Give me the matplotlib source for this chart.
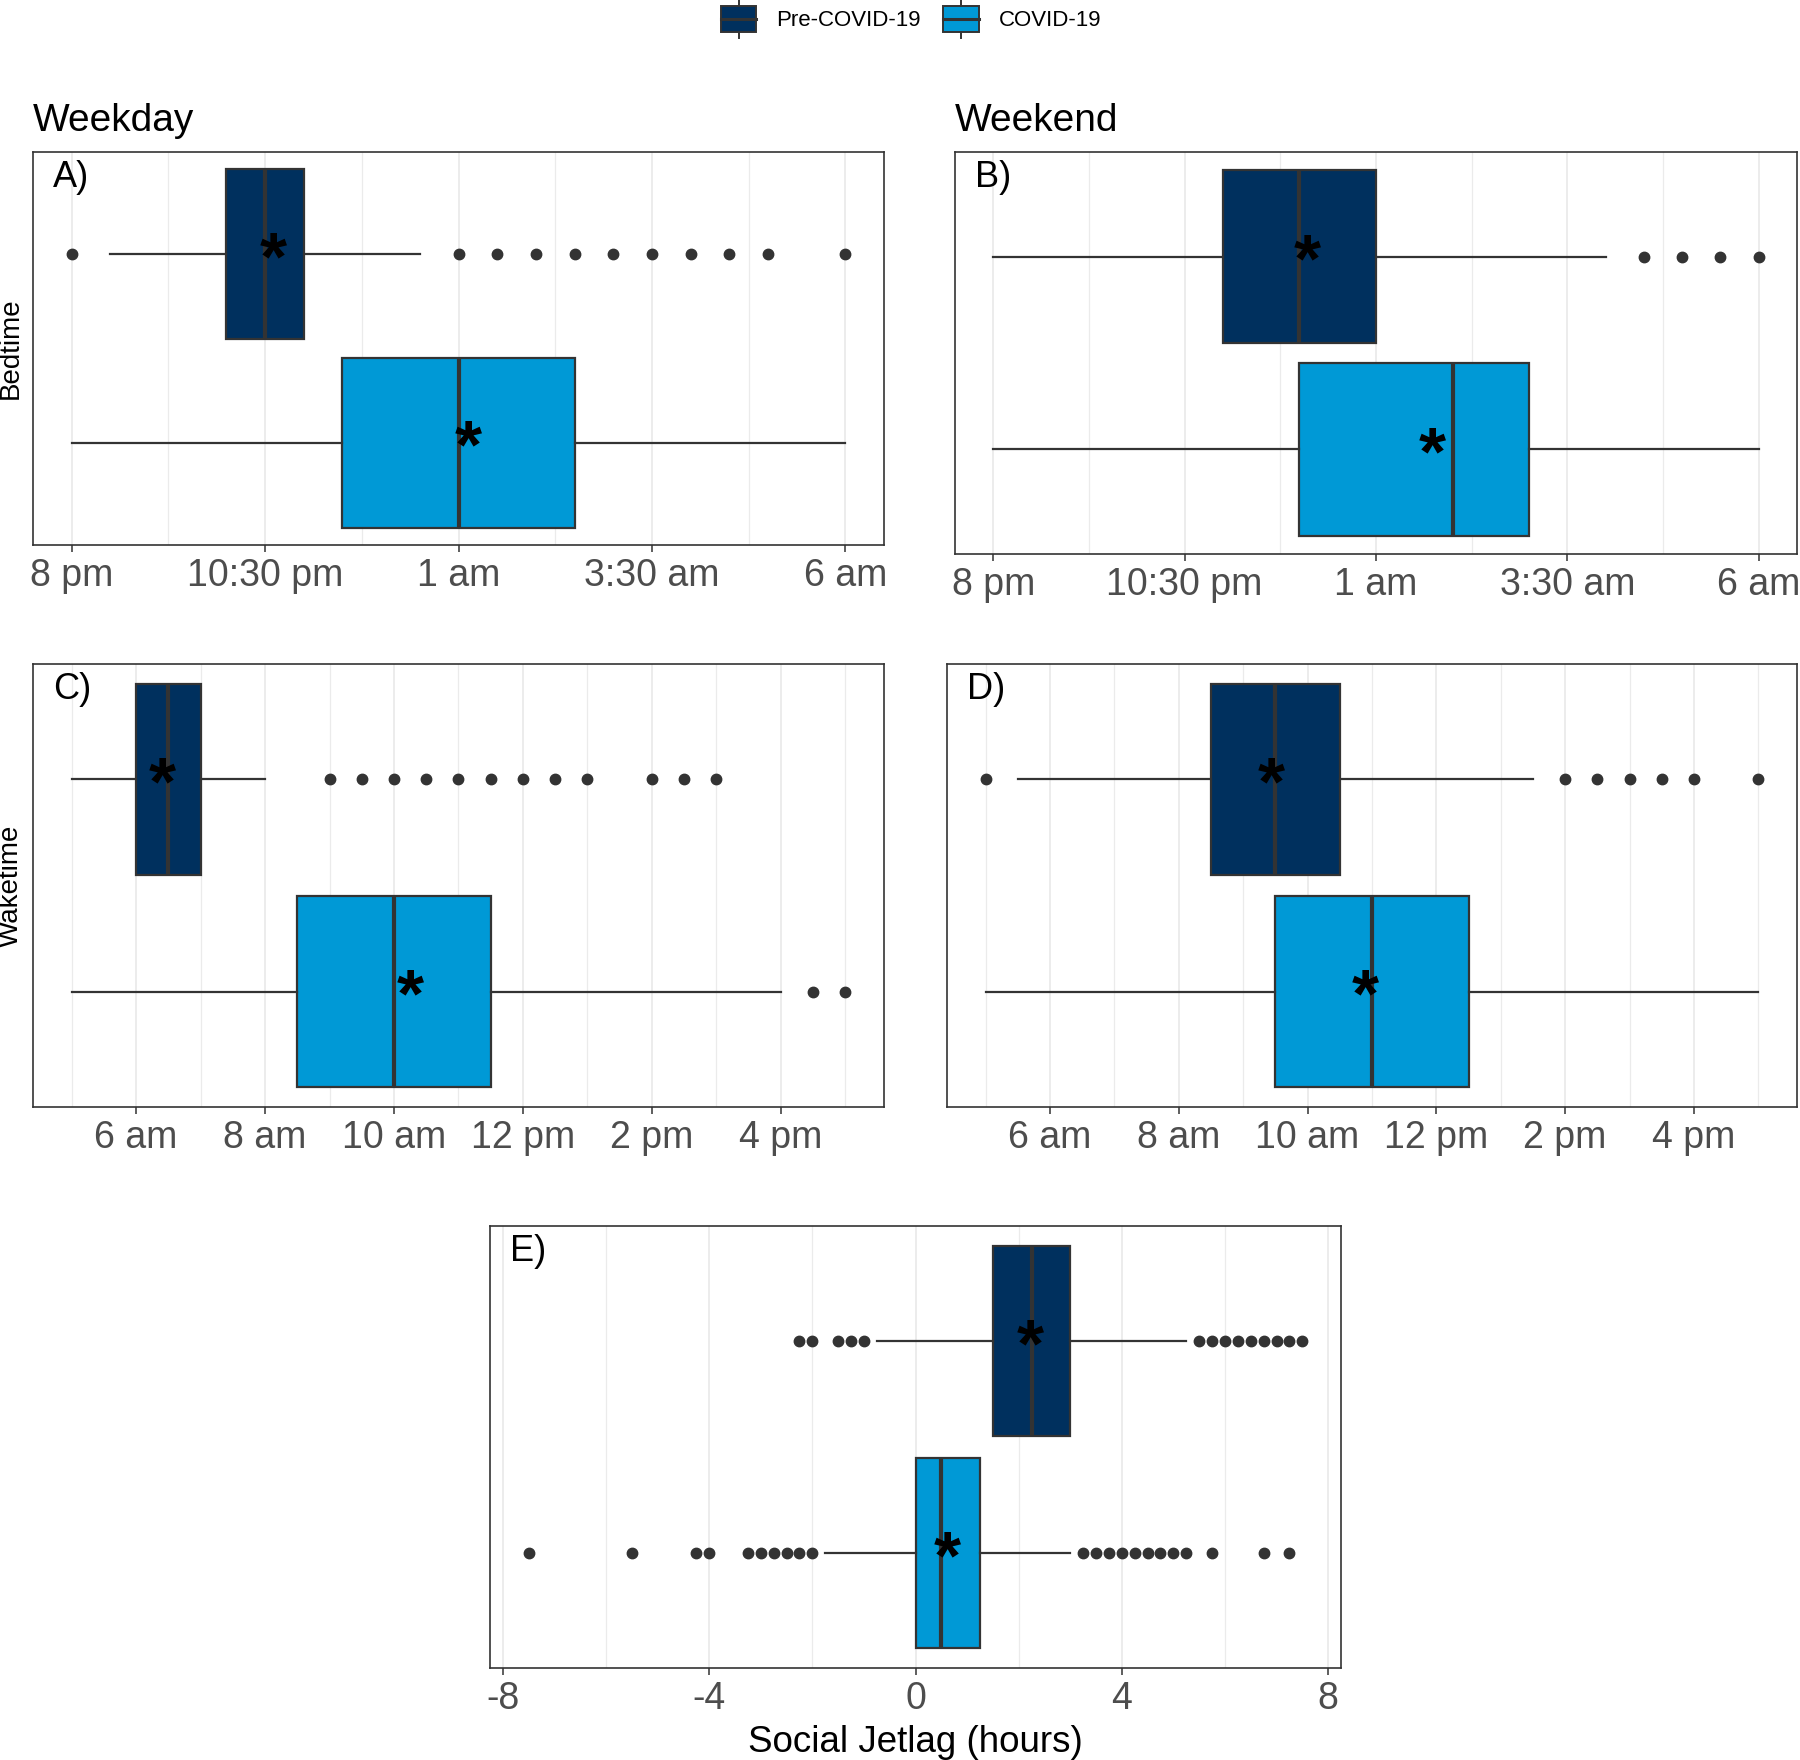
import matplotlib
matplotlib.use('Agg')
import matplotlib.pyplot as plt
from matplotlib.patches import Rectangle, Patch
from matplotlib.lines import Line2D
from matplotlib.legend_handler import HandlerBase
import matplotlib.transforms as mtransforms

plt.rcParams['font.family'] = ['Liberation Sans', 'DejaVu Sans']
plt.rcParams['axes.unicode_minus'] = False

groups = ['Pre-COVID-19', 'COVID-19']
colors = ['#00305e', '#0099d6']

# box stats: [whisker low, Q1, median, Q3, whisker high]; clock hours (>24 = after midnight)
bed_wd_pre = [20.5, 22.0, 22.5, 23.0, 24.5]
bed_wd_pre_mean = 22.6
bed_wd_pre_out = [20.0, 25.0, 25.5, 26.0, 26.5, 27.0, 27.5, 28.0, 28.5, 29.0, 30.0]
bed_wd_cov = [20.0, 23.5, 25.0, 26.5, 30.0]
bed_wd_cov_mean = 25.12
bed_wd_cov_out = []

bed_we_pre = [20.0, 23.0, 24.0, 25.0, 28.0]
bed_we_pre_mean = 24.1
bed_we_pre_out = [28.5, 29.0, 29.5, 30.0]
bed_we_cov = [20.0, 24.0, 26.0, 27.0, 30.0]
bed_we_cov_mean = 25.74
bed_we_cov_out = []

wake_wd_pre = [5.0, 6.0, 6.5, 7.0, 8.0]
wake_wd_pre_mean = 6.4
wake_wd_pre_out = [9.0, 9.5, 10.0, 10.5, 11.0, 11.5, 12.0, 12.5, 13.0, 14.0, 14.5, 15.0]
wake_wd_cov = [5.0, 8.5, 10.0, 11.5, 16.0]
wake_wd_cov_mean = 10.25
wake_wd_cov_out = [16.5, 17.0]

wake_we_pre = [5.5, 8.5, 9.5, 10.5, 13.5]
wake_we_pre_mean = 9.44
wake_we_pre_out = [5.0, 14.0, 14.5, 15.0, 15.5, 16.0, 17.0]
wake_we_cov = [5.0, 9.5, 11.0, 12.5, 17.0]
wake_we_cov_mean = 10.9
wake_we_cov_out = []

sjl_pre = [-0.75, 1.5, 2.25, 3.0, 5.25]
sjl_pre_mean = 2.22
sjl_pre_out = [-2.25, -2.0, -1.5, -1.25, -1.0, 5.5, 5.75, 6.0, 6.25, 6.5, 6.75, 7.0, 7.25, 7.5]
sjl_cov = [-1.75, 0.0, 0.5, 1.25, 3.0]
sjl_cov_mean = 0.61
sjl_cov_out = [-7.5, -5.5, -4.25, -4.0, -3.25, -3.0, -2.75, -2.5, -2.25, -2.0,
               3.25, 3.5, 3.75, 4.0, 4.25, 4.5, 4.75, 5.0, 5.25, 5.75, 6.75, 7.25]

bed_ticks = [20, 22.5, 25, 27.5, 30]
bed_minor = [21.25, 23.75, 26.25, 28.75]
bed_labels = ['8 pm', '10:30 pm', '1 am', '3:30 am', '6 am']
wake_ticks = [6, 8, 10, 12, 14, 16]
wake_minor = [5, 7, 9, 11, 13, 15, 17]
wake_labels = ['6 am', '8 am', '10 am', '12 pm', '2 pm', '4 pm']
sjl_ticks = [-8, -4, 0, 4, 8]
sjl_minor = [-6, -2, 2, 6]
sjl_labels = ['-8', '-4', '0', '4', '8']

EDGE = '#333333'
W, H = 1800, 1760
fig = plt.figure(figsize=(W / 100, H / 100), dpi=100)


def px_axes(l, t, r, b):
    return fig.add_axes([l / W, 1 - b / H, (r - l) / W, (b - t) / H])


def draw(ax, pre, pre_mean, pre_out, cov, cov_mean, cov_out, ticks, minor, labels, xlim, letter):
    data = [(cov, cov_mean, cov_out, groups[1]), (pre, pre_mean, pre_out, groups[0])]
    stats = []
    for s, m, o, lab in data:
        stats.append(dict(whislo=s[0], q1=s[1], med=s[2], q3=s[3], whishi=s[4],
                          mean=m, fliers=o, label=lab))
    bp = ax.bxp(stats, positions=[1, 2], widths=0.9, orientation='horizontal',
                patch_artist=True, showcaps=False, showmeans=False,
                boxprops=dict(edgecolor=EDGE, linewidth=1.6),
                medianprops=dict(color=EDGE, linewidth=3.0, solid_capstyle='butt'),
                whiskerprops=dict(color=EDGE, linewidth=1.6),
                flierprops=dict(marker='o', markerfacecolor=EDGE, markeredgecolor=EDGE,
                                markersize=7.5, linestyle='none'),
                zorder=2)
    for patch, c in zip(bp['boxes'], [colors[1], colors[0]]):
        patch.set_facecolor(c)
    off = mtransforms.offset_copy(ax.transData, fig=fig, x=0, y=-7, units='dots')
    for (s, m, o, lab), pos in zip(data, [1, 2]):
        ax.text(m, pos, '*', ha='center', va='center', fontsize=50, fontweight='bold',
                color='black', transform=off, zorder=5)
    ax.set_xlim(*xlim)
    ax.set_ylim(0.458, 2.542)
    ax.set_yticks([])
    ax.set_xticks(ticks)
    ax.set_xticklabels(labels)
    ax.set_xticks(minor, minor=True)
    ax.grid(axis='x', which='major', color='#EBEBEB', linewidth=1.3)
    ax.grid(axis='x', which='minor', color='#EBEBEB', linewidth=0.9)
    ax.set_axisbelow(True)
    ax.tick_params(axis='x', which='major', length=5, width=1.1, color=EDGE,
                   labelsize=27, labelcolor='#4D4D4D', pad=4.5)
    ax.tick_params(axis='x', which='minor', length=0)
    for sp in ax.spines.values():
        sp.set_color(EDGE)
        sp.set_linewidth(1.2)
    ax.annotate(letter, xy=(0, 1), xycoords='axes fraction', xytext=(20, -35),
                textcoords='offset pixels', ha='left', va='baseline', fontsize=26,
                color='black')


axA = px_axes(33, 152, 884, 545)
draw(axA, bed_wd_pre, bed_wd_pre_mean, bed_wd_pre_out, bed_wd_cov, bed_wd_cov_mean,
     bed_wd_cov_out, bed_ticks, bed_minor, bed_labels, (19.5, 30.5), 'A)')
axB = px_axes(955, 152, 1797, 554)
draw(axB, bed_we_pre, bed_we_pre_mean, bed_we_pre_out, bed_we_cov, bed_we_cov_mean,
     bed_we_cov_out, bed_ticks, bed_minor, bed_labels, (19.5, 30.5), 'B)')
axC = px_axes(33, 664, 884, 1107)
draw(axC, wake_wd_pre, wake_wd_pre_mean, wake_wd_pre_out, wake_wd_cov, wake_wd_cov_mean,
     wake_wd_cov_out, wake_ticks, wake_minor, wake_labels, (4.4, 17.6), 'C)')
axD = px_axes(947, 664, 1797, 1107)
draw(axD, wake_we_pre, wake_we_pre_mean, wake_we_pre_out, wake_we_cov, wake_we_cov_mean,
     wake_we_cov_out, wake_ticks, wake_minor, wake_labels, (4.4, 17.6), 'D)')
axE = px_axes(490, 1226, 1341, 1668)
draw(axE, sjl_pre, sjl_pre_mean, sjl_pre_out, sjl_cov, sjl_cov_mean, sjl_cov_out,
     sjl_ticks, sjl_minor, sjl_labels, (-8.25, 8.25), 'E)')

fig.text(33 / W, 1 - 131 / H, 'Weekday', ha='left', va='baseline', fontsize=28)
fig.text(955 / W, 1 - 131 / H, 'Weekend', ha='left', va='baseline', fontsize=28)
fig.text(11 / W, 1 - 348 / H, 'Bedtime', rotation=90, ha='center', va='center', fontsize=20)
fig.text(11 / W, 1 - 886 / H, 'Waketime', rotation=90, ha='center', va='center', fontsize=20)
fig.text(915 / W, 1 - 1742 / H, 'Social Jetlag (hours)', ha='center', va='center', fontsize=26.5)


class BoxKey(HandlerBase):
    def create_artists(self, legend, orig_handle, xdescent, ydescent, width, height,
                       fontsize, trans):
        x0, y0 = -xdescent, -ydescent
        fc = orig_handle.get_facecolor()
        vline = Line2D([x0 + width / 2] * 2, [y0 - 0.06 * height, y0 + 1.06 * height],
                       color=EDGE, lw=1.4, transform=trans)
        rect = Rectangle((x0, y0 + 0.1 * height), width, 0.8 * height, facecolor=fc,
                         edgecolor=EDGE, lw=1.4, transform=trans)
        med = Line2D([x0, x0 + width], [y0 + height / 2] * 2, color=EDGE, lw=2.2,
                     transform=trans)
        return [vline, rect, med]


handles = [Patch(facecolor=c) for c in colors]
fig.legend(handles, groups, loc='center', bbox_to_anchor=(911 / W, 1 - 19 / H), ncol=2,
           frameon=False, fontsize=16, handlelength=1.6, handleheight=1.95,
           handletextpad=0.9, columnspacing=1.0, handler_map={Patch: BoxKey()})

fig.savefig('out.png', dpi=100)
